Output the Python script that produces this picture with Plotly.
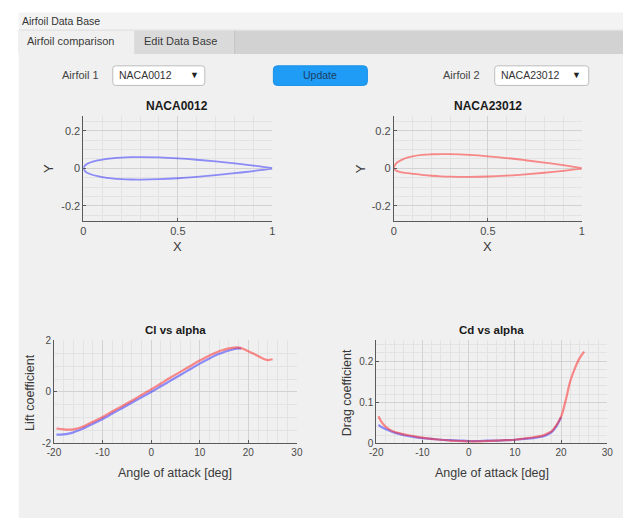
import plotly.graph_objects as go

W, H = 629, 523

# ---------------- data ----------------
x_stations = [0.0, 0.0125, 0.025, 0.05, 0.075, 0.1, 0.15, 0.2, 0.25, 0.3, 0.4, 0.5, 0.6, 0.7, 0.8, 0.9, 0.95, 1.0]
naca0012_upper = [0.0, 0.0189, 0.0262, 0.0356, 0.0420, 0.0468, 0.0534, 0.0574, 0.0596, 0.0600, 0.0580, 0.0529, 0.0456, 0.0366, 0.0262, 0.0145, 0.0081, 0.0013]
naca0012_lower = [0.0, -0.0189, -0.0262, -0.0356, -0.0420, -0.0468, -0.0534, -0.0574, -0.0596, -0.0600, -0.0580, -0.0529, -0.0456, -0.0366, -0.0262, -0.0145, -0.0081, -0.0013]
naca23012_upper = [0.0, 0.0267, 0.0361, 0.0491, 0.0580, 0.0643, 0.0719, 0.0750, 0.0760, 0.0755, 0.0714, 0.0641, 0.0545, 0.0430, 0.0305, 0.0166, 0.0090, 0.0013]
naca23012_lower = [0.0, -0.0123, -0.0171, -0.0226, -0.0261, -0.0292, -0.0350, -0.0397, -0.0428, -0.0446, -0.0455, -0.0437, -0.0391, -0.0323, -0.0237, -0.0133, -0.0073, -0.0013]

alpha_cl_0012 = [-19.5, -18, -17, -16, -15, -14, -13, -12, -10, -8, -6, -4, -2, 0, 2, 4, 6, 8, 10, 12, 14, 15, 16, 17, 18, 18.5]
cl_0012 = [-1.66, -1.65, -1.62, -1.57, -1.50, -1.42, -1.33, -1.24, -1.05, -0.84, -0.63, -0.42, -0.21, 0.0, 0.22, 0.44, 0.66, 0.88, 1.10, 1.30, 1.48, 1.55, 1.61, 1.66, 1.69, 1.68]
alpha_cl_23012 = [-19.5, -18, -17, -16, -15, -14, -13, -12, -10, -8, -6, -4, -2, 0, 2, 4, 6, 8, 10, 12, 14, 15, 16, 17, 17.5, 18, 19, 20, 21, 22, 23, 24, 25]
cl_23012 = [-1.42, -1.45, -1.46, -1.45, -1.41, -1.34, -1.25, -1.16, -0.97, -0.76, -0.55, -0.34, -0.12, 0.10, 0.33, 0.56, 0.78, 1.00, 1.22, 1.42, 1.58, 1.64, 1.69, 1.72, 1.73, 1.72, 1.67, 1.58, 1.49, 1.40, 1.30, 1.24, 1.27]

alpha_cd_0012 = [-19.5, -19, -18, -17, -16, -15, -14, -12, -10, -8, -6, -4, -2, 0, 2, 4, 6, 8, 10, 12, 14, 16, 17, 18, 19, 20]
cd_0012 = [0.045, 0.041, 0.035, 0.030, 0.026, 0.023, 0.020, 0.016, 0.013, 0.011, 0.009, 0.008, 0.007, 0.006, 0.006, 0.007, 0.007, 0.008, 0.009, 0.011, 0.013, 0.017, 0.021, 0.028, 0.042, 0.064]
alpha_cd_23012 = [-19.5, -19, -18, -17, -16, -15, -14, -12, -10, -8, -6, -4, -2, 0, 2, 4, 6, 8, 10, 12, 14, 16, 17, 18, 19, 20, 21, 22, 23, 24, 25]
cd_23012 = [0.066, 0.055, 0.041, 0.033, 0.028, 0.025, 0.022, 0.018, 0.014, 0.011, 0.009, 0.007, 0.006, 0.005, 0.005, 0.006, 0.007, 0.008, 0.009, 0.012, 0.015, 0.019, 0.024, 0.030, 0.045, 0.065, 0.105, 0.152, 0.183, 0.207, 0.223]

airfoil_names = ["NACA0012", "NACA23012"]
plot_titles = ["Cl vs alpha", "Cd vs alpha"]

BLUE = "rgba(40,40,255,0.5)"
RED = "rgba(255,30,30,0.5)"
FONT = "Liberation Sans, Arial, sans-serif"


def px(x):
    return x / W


def py(y):
    return 1 - y / H


def contour(upper, lower):
    xs = x_stations[::-1] + x_stations[1:]
    ys = upper[::-1] + lower[1:]
    return xs, ys


fig = go.Figure()

xa, ya = contour(naca0012_upper, naca0012_lower)
fig.add_trace(go.Scatter(x=xa, y=ya, mode="lines", line=dict(color=BLUE, width=1.8, shape="spline"), xaxis="x", yaxis="y"))
xb, yb = contour(naca23012_upper, naca23012_lower)
fig.add_trace(go.Scatter(x=xb, y=yb, mode="lines", line=dict(color=RED, width=1.8, shape="spline"), xaxis="x2", yaxis="y2"))

fig.add_trace(go.Scatter(x=alpha_cl_0012, y=cl_0012, mode="lines", line=dict(color=BLUE, width=2.2, shape="spline"), xaxis="x3", yaxis="y3"))
fig.add_trace(go.Scatter(x=alpha_cl_23012, y=cl_23012, mode="lines", line=dict(color=RED, width=2.2, shape="spline"), xaxis="x3", yaxis="y3"))
fig.add_trace(go.Scatter(x=alpha_cd_0012, y=cd_0012, mode="lines", line=dict(color=BLUE, width=2.2, shape="spline"), xaxis="x4", yaxis="y4"))
fig.add_trace(go.Scatter(x=alpha_cd_23012, y=cd_23012, mode="lines", line=dict(color=RED, width=2.2, shape="spline"), xaxis="x4", yaxis="y4"))

GRID = "#d2d2d2"
MINOR = "#e3e3e3"
AX = "#5a5a5a"


def xaxis(dom, anchor, rng, tickvals, ticktext, minor_dt, fs=10):
    return dict(domain=[px(dom[0]), px(dom[1])], anchor=anchor, range=rng,
                tickvals=tickvals, ticktext=ticktext, showgrid=True, gridcolor=GRID, gridwidth=1,
                minor=dict(dtick=minor_dt, tick0=0, showgrid=True, gridcolor=MINOR, gridwidth=1, ticks=""),
                showline=True, linecolor=AX, linewidth=1, ticks="inside", ticklen=3, tickcolor=AX,
                tickfont=dict(family=FONT, size=fs, color="#4a4a4a"), zeroline=False, fixedrange=True)


def yaxis(dom, anchor, rng, tickvals, ticktext, minor_dt, fs=10):
    d = xaxis((0, 1), anchor, rng, tickvals, ticktext, minor_dt, fs)
    d["domain"] = [py(dom[1]), py(dom[0])]
    return d


fig.update_layout(
    width=W, height=H, margin=dict(l=0, r=0, t=0, b=0),
    paper_bgcolor="white", plot_bgcolor="white", showlegend=False,
    xaxis=xaxis((78, 271), "y", [0, 1], [0, 0.5, 1], ["0", "0.5", "1"], 0.1, 11),
    yaxis=yaxis((113, 220), "x", [-0.28, 0.28], [-0.2, 0, 0.2], ["-0.2", "0", "0.2"], 0.05, 11),
    xaxis2=xaxis((395, 587), "y2", [0, 1], [0, 0.5, 1], ["0", "0.5", "1"], 0.1, 11),
    yaxis2=yaxis((113, 220), "x2", [-0.28, 0.28], [-0.2, 0, 0.2], ["-0.2", "0", "0.2"], 0.05, 11),
    xaxis3=xaxis((48, 296), "y3", [-20, 30], [-20, -10, 0, 10, 20, 30], ["-20", "-10", "0", "10", "20", "30"], 2),
    yaxis3=yaxis((342, 447), "x3", [-2, 2], [-2, 0, 2], ["-2", "0", "2"], 0.5),
    xaxis4=xaxis((377, 613), "y4", [-20, 30], [-20, -10, 0, 10, 20, 30], ["-20", "-10", "0", "10", "20", "30"], 2),
    yaxis4=yaxis((342, 447), "x4", [0, 0.25], [0, 0.1, 0.2], ["0", "0.1", "0.2"], 0.02),
)


def rect(x0, y0, x1, y1, fill, line=None, lw=0):
    fig.add_shape(type="rect", xref="paper", yref="paper", x0=px(x0), x1=px(x1), y0=py(y1), y1=py(y0),
                  fillcolor=fill, line=dict(color=line or fill, width=lw), layer="below")


def rrect(x0, y0, x1, y1, r, fill, line=None, lw=0):
    X0, X1, Y0, Y1 = px(x0), px(x1), py(y0), py(y1)
    rx, ry = r / W, r / H
    p = (f"M {X0+rx},{Y0} L {X1-rx},{Y0} Q {X1},{Y0} {X1},{Y0-ry} L {X1},{Y1+ry} Q {X1},{Y1} {X1-rx},{Y1} "
         f"L {X0+rx},{Y1} Q {X0},{Y1} {X0},{Y1+ry} L {X0},{Y0-ry} Q {X0},{Y0} {X0+rx},{Y0} Z")
    fig.add_shape(type="path", xref="paper", yref="paper", path=p, fillcolor=fill,
                  line=dict(color=line or fill, width=lw), layer="below")


def text(x, y, s, size=10, color="#333333", xanchor="left", bold=False, angle=0):
    fig.add_annotation(xref="paper", yref="paper", x=px(x), y=py(y), text=f"<b>{s}</b>" if bold else s,
                       showarrow=False, xanchor=xanchor, yanchor="middle", textangle=angle, borderpad=0,
                       font=dict(family=FONT, size=size, color=color))


# app frame
rect(12, 8, 629, 523, "#f0f0f0")
rect(12, 8, 629, 26, "#f3f3f3")
rect(12, 26, 629, 50, "#d2d2d2")
rect(130, 26, 232, 50, "#dadada")
rect(232, 26, 233, 50, "#c4c4c4")
rect(12, 26, 130, 50, "#f0f0f0")
rect(12, 25, 629, 26, "#e2e2e2")

text(14, 16, "Airfoil Data Base", 10.5, "#333333")
text(19, 37, "Airfoil comparison", 11, "#3a3a3a")
text(139, 37, "Edit Data Base", 11, "#3a3a3a")

# controls
text(95, 71, "Airfoil 1", 11, "#444444", xanchor="right")
rrect(108, 62, 202, 82, 3, "white", "#bdbdbd", 1)
text(113, 71, "NACA0012", 10.5, "#333333")
text(191, 71, "▼", 9, "#222222", xanchor="center")

rrect(272, 62, 368, 82, 4, "#1f9cf5", "#1a90e8", 1)
text(320, 71, "Update", 10.5, "#1c3d66", xanchor="center")

text(484, 71, "Airfoil 2", 11, "#444444", xanchor="right")
rrect(498, 62, 594, 82, 3, "white", "#bdbdbd", 1)
text(503, 71, "NACA23012", 10.5, "#333333")
text(582, 71, "▼", 9, "#222222", xanchor="center")

# titles and axis labels
text(174, 103, airfoil_names[0], 12, "#1a1a1a", xanchor="center", bold=True)
text(491, 103, airfoil_names[1], 12, "#1a1a1a", xanchor="center", bold=True)
text(174, 246, "X", 13, "#3a3a3a", xanchor="center")
text(491, 246, "X", 13, "#3a3a3a", xanchor="center")
text(43, 167, "Y", 13, "#3a3a3a", xanchor="center", angle=-90)
text(361, 167, "Y", 13, "#3a3a3a", xanchor="center", angle=-90)

text(172, 331, plot_titles[0], 11.5, "#1a1a1a", xanchor="center", bold=True)
text(495, 331, plot_titles[1], 11.5, "#1a1a1a", xanchor="center", bold=True)
text(172, 477, "Angle of attack [deg]", 12.5, "#3a3a3a", xanchor="center")
text(495, 477, "Angle of attack [deg]", 12.5, "#3a3a3a", xanchor="center")
text(24, 395, "Lift coefficient", 12.5, "#3a3a3a", xanchor="center", angle=-90)
text(348, 395, "Drag coefficient", 12.5, "#3a3a3a", xanchor="center", angle=-90)

fig.write_html("out.html")
